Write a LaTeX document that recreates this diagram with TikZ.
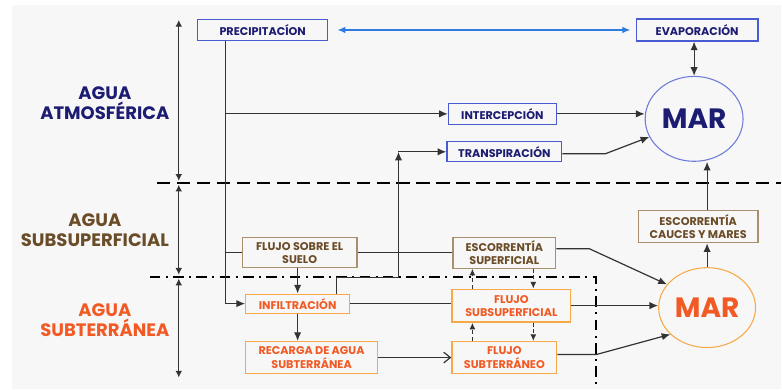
\documentclass[tikz,border=0pt]{standalone}
\usepackage{fontspec}
\setmainfont{Poppins}
\usetikzlibrary{arrows.meta,%
	shapes.geometric}
\definecolor{navy}{HTML}{1C1C72}
\definecolor{boxblue}{HTML}{4A5AD0}
\definecolor{brownt}{HTML}{6B4C28}
\definecolor{brownb}{HTML}{A8906C}
\definecolor{oranget}{HTML}{F15A24}
\definecolor{orangeb}{HTML}{F7A948}
\definecolor{arrowblue}{HTML}{2D7BE0}
\definecolor{linegray}{HTML}{333333}

\begin{document}
\begin{tikzpicture}[x=0.75pt,y=-0.75pt,
	base_box/.style={draw,line width=0.9pt,inner sep=0pt,align=center,font=\fontsize{8.4}{9.8}\selectfont\bfseries},
	blue_box/.style={base_box,draw=boxblue,text=navy},
	brown_box/.style={base_box,draw=brownb,text=brownt},
	orange_box/.style={base_box,draw=orangeb,text=oranget},
	mar_node/.style={ellipse,line width=0.8pt,inner sep=0pt,font=\fontsize{21}{22}\selectfont\bfseries},
	side_label/.style={align=center,font=\fontsize{13.5}{15}\selectfont\bfseries},
	link/.style={draw=linegray,line width=0.9pt},
	tip/.style={link,-{Latex[length=6.5pt,width=5.5pt]}},
	dot_tip/.style={link,densely dashed,-{Latex[length=5pt,width=4.5pt]}}]

		\fill[white] (0,0) rectangle (782,389);
		\fill[black!3] (12,5) rectangle (782,389);

		\node[blue_box,minimum width=97.5pt,minimum height=15.75pt] (1) at (263,30) {PRECIPITACÍON};
		\node[blue_box,minimum width=91.5pt,minimum height=16.5pt] (2) at (698,30) {EVAPORACIÓN};
		\node[mar_node,draw=boxblue!80,text=navy,minimum width=73.5pt,minimum height=63.75pt] (3) at (695,119) {MAR};
		\node[blue_box,minimum width=81pt,minimum height=15.75pt] (4) at (503,114) {INTERCEPCIÓN};
		\node[blue_box,minimum width=86.25pt,minimum height=15pt] (5) at (505,152) {TRANSPIRACIÓN};
		\node[brown_box,minimum width=86.25pt,minimum height=22.5pt] (6) at (300,253) {FLUJO SOBRE EL\\SUELO};
		\node[brown_box,minimum width=77.25pt,minimum height=23.25pt] (7) at (505,253) {ESCORRENTÍA\\SUPERFICIAL};
		\node[orange_box,minimum width=78pt,minimum height=14.25pt] (8) at (298,304) {INFILTRACIÓN};
		\node[orange_box,minimum width=89.25pt,minimum height=24.75pt] (9) at (512,306) {FLUJO\\SUBSUPERFICIAL};
		\node[orange_box,minimum width=99pt,minimum height=24pt] (10) at (312,358) {RECARGA DE AGUA\\SUBTERRÁNEA};
		\node[orange_box,minimum width=78.75pt,minimum height=24pt] (11) at (505,358) {FLUJO\\SUBTERRÁNEO};
		\node[mar_node,draw=orangeb,text=oranget,minimum width=72.75pt,minimum height=60pt] (12) at (708,308) {MAR};
		\node[brown_box,minimum width=90pt,minimum height=24pt] (13) at (699,227) {ESCORRENTÍA\\CAUCES Y MARES};

		\node[side_label,text=navy] (14) at (105,103) {AGUA\\ATMOSFÉRICA};
		\node[side_label,text=brownt] (15) at (95,230) {AGUA\\SUBSUPERFICIAL};
		\node[side_label,text=oranget] (16) at (105,321) {AGUA\\SUBTERRÁNEA};

		% zone limits
		\draw[line width=1.5pt,dash pattern=on 10pt off 5pt] (157,183) -- (782,183);
		\draw[line width=1.5pt,dash pattern=on 8pt off 4pt on 1.5pt off 4pt] (150,277) -- (597,277) -- (597,389);

		% vertical scale
		\coordinate (a0) at (179,20);
		\coordinate (a1) at (179,181);
		\coordinate (a2) at (179,185);
		\coordinate (a3) at (179,275);
		\coordinate (a4) at (179,279);
		\coordinate (a5) at (179,378);
		\draw[link,{Latex[length=5pt,width=5pt]}-{Latex[length=5pt,width=5pt]}] (a0) -- (a1);
		\draw[link,{Latex[length=5pt,width=5pt]}-{Latex[length=5pt,width=5pt]}] (a2) -- (a3);
		\draw[link,{Latex[length=5pt,width=5pt]}-{Latex[length=5pt,width=5pt]}] (a4) -- (a5);

		% turning points
		\coordinate (p1) at (226,114);
		\coordinate (p2) at (226,253);
		\coordinate (p3) at (226,304);
		\coordinate (q1) at (337,278);
		\coordinate (q2) at (399,278);
		\coordinate (q3) at (399,152);
		\coordinate (t1) at (606,154);
		\coordinate (t2) at (590,249);
		\coordinate (t3) at (597,355);
		\coordinate (d1) at (473,0);
		\coordinate (d2) at (534,0);

		\draw[arrowblue,line width=0.9pt,{Latex[length=6pt,width=5pt]}-{Latex[length=6pt,width=5pt]},shorten <=7pt,shorten >=4pt] (1.east) -- (2.west);
		\draw[link,{Latex[length=6.5pt,width=5.5pt]}-{Latex[length=6.5pt,width=5.5pt]}] (3.north |- 2.south) -- (3.north);

		\draw[tip] (1.south -| p1) -- (p3) -- (8.west);
		\draw[tip] (p1) -- (4.west);
		\draw[link] (p2) -- (6.west);
		\draw[tip] (4.east) -- (4.east -| 3.west);
		\draw[tip] (5.east |- t1) -- (t1) -- (3.202);
		\draw[tip] (8.north -| q1) -- (q1) -- (q2) -- (q3);
		\draw[tip] (q3) -- (5.west);

		\draw[link] (6.east) -- (7.west);
		\draw[tip] (6.south -| 8.north) -- (8.north);
		\draw[tip] (8.south) -- (8.south |- 10.north);
		\draw[link] (8.east) -- (8.east -| 9.west);
		\draw[link,-{Straight Barb[length=5pt,width=8pt]}] (10.east) -- (10.east -| 11.west);

		\draw[dot_tip] (9.north -| d1) -- (7.south -| d1);
		\draw[dot_tip] (7.south -| d2) -- (9.north -| d2);
		\draw[dot_tip] (11.north -| d1) -- (9.south -| d1);
		\draw[dot_tip] (9.south -| d2) -- (11.north -| d2);

		\draw[tip] (7.east |- t2) -- (t2) -- (12.150);
		\draw[tip] (9.east) -- (9.east -| 12.west);
		\draw[tip] (11.east |- t3) -- (t3) -- (12.216);
		\draw[tip] (12.north) -- (12.north |- 13.south);
		\draw[tip] (13.north -| 12.north) -- (3.south -| 12.north);
		\end{tikzpicture}
\end{document}
